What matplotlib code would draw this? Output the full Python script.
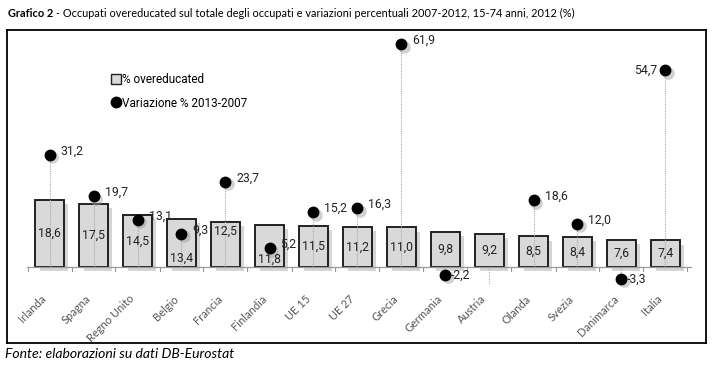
import matplotlib
matplotlib.use('Agg')
import matplotlib.pyplot as plt
import matplotlib.transforms as mtransforms
from matplotlib.lines import Line2D
import matplotlib.patheffects as pe

paesi = ['Irlanda', 'Spagna', 'Regno Unito', 'Belgio', 'Francia', 'Finlandia', 'UE 15',
         'UE 27', 'Grecia', 'Germania', 'Austria', 'Olanda', 'Svezia', 'Danimarca', 'Italia']
overeducated = [18.6, 17.5, 14.5, 13.4, 12.5, 11.8, 11.5, 11.2, 11.0, 9.8, 9.2, 8.5, 8.4, 7.6, 7.4]
# Austria: only the stem is visible in the original, no dot or label
variazione = [31.2, 19.7, 13.1, 9.3, 23.7, 5.2, 15.2, 16.3, 61.9, -2.2, -4.6, 18.6, 12.0, -3.3, 54.7]
mostra_punto = [True] * 10 + [False] + [True] * 4

NUM = ['Roboto', 'DejaVu Sans']
TXT = ['Lato', 'DejaVu Sans']
plt.rcParams['font.family'] = NUM

W, H = 718, 365
fig = plt.figure(figsize=(W / 100, H / 100), dpi=100)
renderer = fig.canvas.get_renderer()

# axes covering the black frame
fx0, fy0, fx1, fy1 = 7, 30, 706, 343
ax = fig.add_axes([fx0 / W, 1 - fy1 / H, (fx1 - fx0) / W, (fy1 - fy0) / H])
cx0, step = 49.5, 44.0
base_px, scale = 267, 3.6
ax.set_xlim((fx0 - cx0) / step, (fx1 - cx0) / step)
ax.set_ylim((base_px - fy1) / scale, (base_px - fy0) / scale)
for s in ax.spines.values():
    s.set_linewidth(1.3)
    s.set_color('black')
ax.set_xticks([])
ax.set_yticks([])

n = len(paesi)
x = list(range(n))

shadow_bar = [pe.SimplePatchShadow(offset=(3, -3), shadow_rgbFace='#777777', alpha=0.3), pe.Normal()]
ax.bar(x, overeducated, width=0.64, color='#d9d9d9', edgecolor='#222222', linewidth=1.4,
       zorder=2, path_effects=shadow_bar)

# baseline and ticks between categories
ax.plot([-0.52, n - 0.43], [0, 0], color='#999999', lw=0.9, zorder=3)
for k in range(n + 1):
    ax.plot([k - 0.5, k - 0.5], [0, -1.1], color='#999999', lw=0.8, zorder=3)

# stems
for i, v in enumerate(variazione):
    ax.plot([i, i], [0, v], color='#aaaaaa', lw=0.8, ls=(0, (1, 1)), zorder=3)

px_ = [i for i in x if mostra_punto[i]]
py_ = [variazione[i] for i in x if mostra_punto[i]]
shift = mtransforms.offset_copy(ax.transData, fig=fig, x=2.5, y=-2.5, units='dots')
ax.plot(px_, py_, 'o', color='#999999', alpha=0.45, markersize=9, markeredgewidth=0,
        transform=shift, zorder=4)
ax.plot(px_, py_, 'o', color='black', markersize=7.5, zorder=5)

def fmt(v):
    return f'{v:.1f}'.replace('.', ',')

# bar value labels (vertical placement as fraction of bar height)
pos_bar = {3: 0.18, 5: 0.18, 4: 0.8}
for i, v in enumerate(overeducated):
    f = pos_bar.get(i, 0.5)
    ax.text(i, v * f, fmt(v), ha='center', va='center', fontsize=8.8, color='#222222', zorder=6)

# dot labels
for i, v in enumerate(variazione):
    if not mostra_punto[i]:
        continue
    if paesi[i] == 'Italia':
        ax.text(i - 0.18, v, fmt(v), ha='right', va='center', fontsize=8.8, color='#222222', zorder=6)
    elif v < 0:
        ax.text(i + 0.12, v, fmt(v), ha='left', va='center', fontsize=8.8, color='#222222', zorder=6)
    else:
        ax.text(i + 0.25, v + 1, fmt(v), ha='left', va='center', fontsize=8.8, color='#222222', zorder=6)

# category labels
for i, p in enumerate(paesi):
    ax.text(i - 0.2, -7.3, p, rotation=45, ha='right', va='top', rotation_mode='anchor',
            fontsize=8, color='#555555', family=TXT)

handles = [Line2D([], [], marker='s', ls='none', markersize=7, markerfacecolor='#d9d9d9',
                  markeredgecolor='#222222', markeredgewidth=1.0),
           Line2D([], [], marker='o', ls='none', markersize=7.5, color='black')]
ax.legend(handles, ['% overeducated', 'Variazione % 2013-2007'], loc='upper left',
          bbox_to_anchor=(107 / W, 1 - 67 / H), bbox_transform=fig.transFigure,
          frameon=False, fontsize=8.5, handlelength=0.6, handletextpad=0.2,
          labelspacing=0.9, borderpad=0)

# title, fitted to the width it has in the original
titolo_b = 'Grafico 2'
titolo = (' - Occupati overeducated sul totale degli occupati e variazioni '
          'percentuali 2007-2012, 15-74 anni, 2012 (%)')
size = 10.5
t1 = fig.text(8 / W, 1 - 17 / H, titolo_b, fontsize=size, fontweight='bold', va='baseline', family=TXT)
t2 = fig.text(0, 1 - 17 / H, titolo, fontsize=size, va='baseline', family=TXT)
w_tot = t1.get_window_extent(renderer).width + t2.get_window_extent(renderer).width
size = size * 567 / w_tot
t1.set_fontsize(size)
t2.set_fontsize(size)
t2.set_x(t1.get_window_extent(renderer).x1 / W)

fig.text(5 / W, 1 - 358 / H, 'Fonte: elaborazioni su dati DB-Eurostat', fontsize=10.1,
         style='italic', va='baseline', family=TXT)

fig.savefig('out.png', dpi=100)
